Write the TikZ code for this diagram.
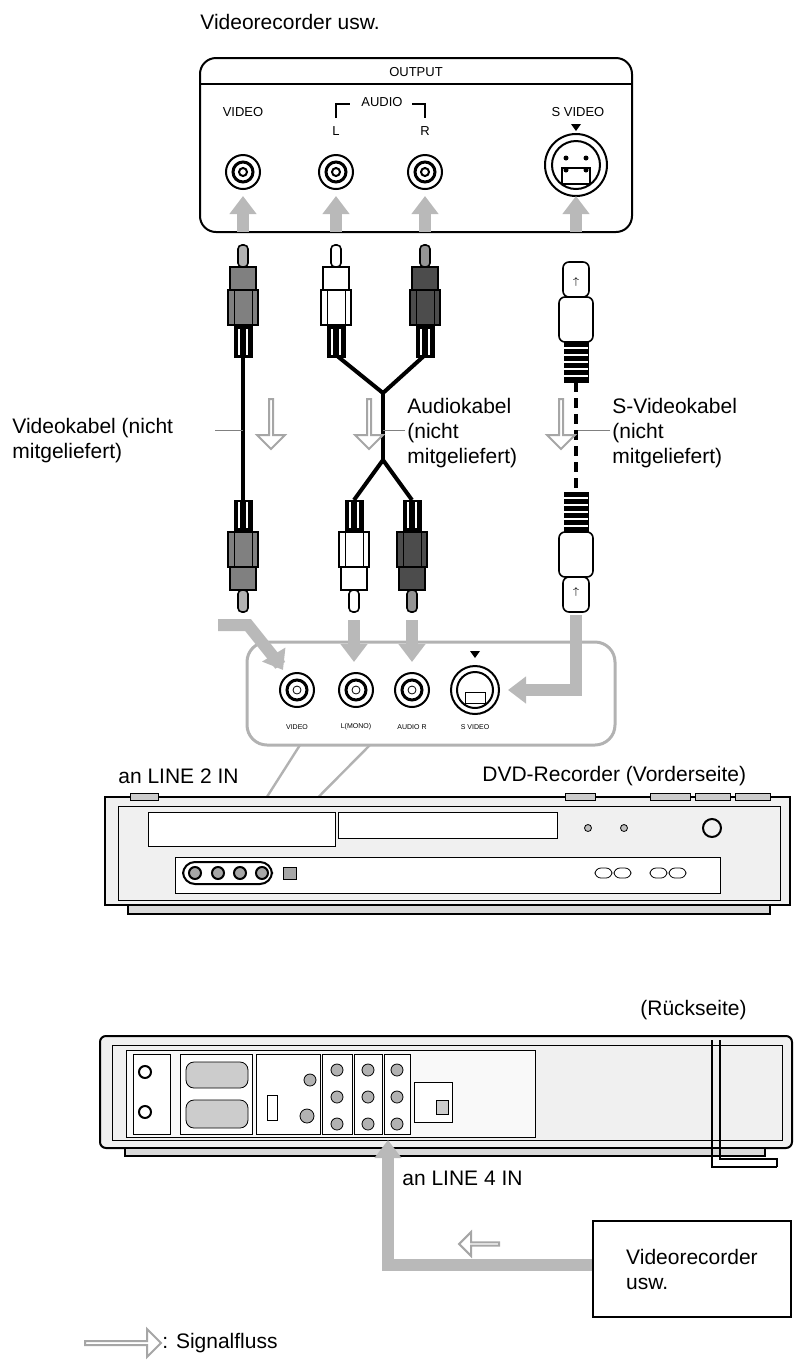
\documentclass[tikz,border=0pt]{standalone}
\usepackage{fontspec}
\setmainfont{Liberation Sans}
\usetikzlibrary{arrows.meta,shapes.arrows}
\begin{document}
\begin{tikzpicture}[x=0.5pt,y=-0.5pt,
 lbl/.style={font=\fontsize{10.5}{12.5}\selectfont,inner sep=0,align=left},
 sm/.style={font=\fontsize{6.5}{7}\selectfont,inner sep=0},
 tiny/.style={font=\fontsize{3.5}{4}\selectfont,inner sep=0},
 garrow/.style={draw=gray!55,line width=6pt,-{Triangle[length=9pt,width=13pt]}},
 hollow/.style={single arrow,draw=gray!70,fill=white,line width=1pt,minimum width=14pt,single arrow head extend=3pt,minimum height=25pt,inner sep=0},
 cab/.style={line width=2pt,black},
 jack/.pic={\draw[line width=1pt,fill=white] (0,0) circle (17); \draw[line width=1.5pt] (0,0) circle (10); \draw[line width=1pt] (0,0) circle (4);},
 rca/.pic={\draw[fill=#1!60!white,line width=0.8pt,rounded corners=2] (-5,0) rectangle (5,22);
   \draw[fill=#1,line width=0.8pt] (-13,22) rectangle (13,45);
   \draw[fill=#1,line width=0.8pt] (-15,45) rectangle (15,80);
   \draw (-9,45)--(-9,80) (9,45)--(9,80);
   \draw[fill=black] (-9,80) rectangle (9,112);
   \draw[white,line width=0.6pt] (-4,84)--(-4,110) (4,84)--(4,110);},
 svp/.pic={\draw[fill=white,line width=0.8pt,rounded corners=3] (-13,0) rectangle (13,35);
   \draw[fill=white,line width=0.8pt,rounded corners=3] (-17,35) rectangle (17,80);
   \node[tiny] at (0,20) {$\uparrow$};
   \draw[fill=black] (-12,80) rectangle (12,120);
   \foreach \yy in {86,93,100,107,114} \draw[white,line width=1pt] (-12,\yy)--(12,\yy);}
]
\useasboundingbox (0,0) rectangle (810,1362);
% top device
\node[lbl,anchor=west] (t1) at (200,22) {Videorecorder usw.};
\draw[line width=1pt,rounded corners=8] (200,58) rectangle (632,232);
\draw[line width=1pt] (200,84) -- (632,84);
\node[sm] (out) at (416,72) {OUTPUT};
\node[sm] (vlab) at (243,112) {VIDEO};
\node[sm] (alab) at (382,102) {AUDIO};
\draw[line width=0.8pt] (336,118)--(336,104)--(350,104) (412,104)--(425,104)--(425,118);
\node[sm] (llab) at (336,131) {L};
\node[sm] (rlab) at (425,131) {R};
\node[sm] (svlab) at (578,112) {S VIDEO};
\fill (571,124)--(581,124)--(576,131)--cycle;
\pic at (243,172) {jack};
\pic at (336,172) {jack};
\pic at (425,172) {jack};
\draw[line width=1pt,fill=white] (576,165) circle (31);
\draw[line width=1pt,fill=white] (576,165) circle (24);
\draw[line width=1pt] (562,168) rectangle (590,184);
\foreach \px/\py in {566/158,586/158,566/170,586/170} \fill (\px,\py) circle (2.5);
% up arrows
\foreach \xx in {243,336,425,576} \draw[garrow] (\xx,232) -- (\xx,196);
% plugs top
\pic at (243,245) {rca=gray};
\pic at (336,245) {rca=white};
\pic at (425,245) {rca=gray!60!black};
\pic at (576,262) {svp};
% cables
\draw[cab] (243,355) -- (243,500);
\draw[cab] (336,355) -- (383,393) -- (425,355);
\draw[cab] (383,393) -- (383,460);
\draw[cab] (354,500) -- (383,460) -- (412,500);
\draw[line width=2pt,dash pattern=on 5pt off 3pt] (576,382) -- (576,495);
% bottom plugs
\pic[yscale=-1] at (243,612) {rca=gray};
\pic[yscale=-1] at (354,612) {rca=white};
\pic[yscale=-1] at (412,612) {rca=gray!60!black};
\pic[yscale=-1] at (576,612) {svp};
% hollow arrows
\node[hollow,rotate=-90] (h1) at (271,423) {};
\node[hollow,rotate=-90] (h2) at (369,423) {};
\node[hollow,rotate=-90] (h3) at (561,423) {};
% labels
\node[lbl,anchor=north west] (vk) at (12,418) {Videokabel (nicht\\mitgeliefert)};
\draw[gray] (215,430) -- (243,430);
\node[lbl,anchor=north west] (ak) at (407,398) {Audiokabel\\(nicht\\mitgeliefert)};
\draw[gray] (383,430) -- (405,430);
\node[lbl,anchor=north west] (sk) at (612,398) {S-Videokabel\\(nicht\\mitgeliefert)};
\draw[gray] (578,430) -- (610,430);
% front jack panel
\draw[gray!60,line width=1.5pt,rounded corners=10] (247,642) rectangle (615,745);
\draw[garrow] (218,625) -- (248,625) -- (280,665) -- (283,670);
\draw[garrow] (354,620) -- (354,662);
\draw[garrow] (412,620) -- (412,662);
\draw[garrow] (576,615) -- (576,690) -- (508,690);
\foreach \xx in {297,356,412} {\draw[line width=1pt,fill=white] (\xx,690) circle (17); \draw[line width=1.5pt] (\xx,690) circle (10);\draw (\xx,690) circle (4);}
\draw[line width=1pt,fill=white] (475,690) circle (24);
\draw[line width=1pt] (475,690) circle (18);
\draw (465,692) rectangle (485,703);
\fill (470,651)--(480,651)--(475,658)--cycle;
\node[tiny] at (297,727) {VIDEO};
\node[tiny] at (356,727) {L(MONO)};
\node[tiny] at (412,727) {AUDIO R};
\node[tiny] at (475,727) {S VIDEO};
\draw[gray!60,line width=1.2pt] (300,745) -- (228,858) (370,745) -- (258,858);
\node[lbl,anchor=west] (l2) at (118,776) {an LINE 2 IN};
\node[lbl,anchor=west] (fr) at (482,776) {DVD-Recorder (Vorderseite)};
% DVD front
\draw[line width=1pt,fill=gray!12] (105,797) rectangle (790,905);
\draw[line width=1pt,fill=gray!30] (128,905) rectangle (770,914);
\foreach \a/\b in {130/158,565/595,650/690,695/730,735/770} \draw[fill=gray!40] (\a,793) rectangle (\b,800);
\draw (118,806) rectangle (780,900);
\draw[fill=white] (148,812) rectangle (335,846);
\draw[fill=white] (338,812) rectangle (557,838);
\draw[fill=gray!50] (588,828) circle (3.5) (624,828) circle (3.5);
\draw[line width=1pt] (712,828) circle (9);
\draw[fill=white] (175,857) rectangle (720,893);
\draw[line width=1pt,rounded corners=6,fill=white] (183,862) rectangle (272,884);
\foreach \xx in {195,218,240,262} \draw[fill=gray!70,line width=1pt] (\xx,873) circle (6);
\draw[fill=gray!70] (283,867) rectangle (296,879);
\draw[rounded corners=3] (595,868) rectangle (612,878) (614,868) rectangle (631,878);
\draw[rounded corners=3] (650,868) rectangle (667,878) (669,868) rectangle (686,878);
% DVD back
\node[lbl,anchor=west] (rs) at (640,1010) {(Rückseite)};
\draw[line width=1pt,fill=gray!12,rounded corners=3] (100,1036) rectangle (792,1148);
\draw[line width=1pt,fill=gray!30] (125,1148) rectangle (765,1156);
\draw (112,1045) rectangle (782,1140);
\draw[fill=gray!5] (126,1050) rectangle (535,1137);
\draw[fill=white] (133,1054) rectangle (170,1134);
\draw[line width=1pt] (145,1072) circle (6) (145,1112) circle (6);
\draw[fill=white] (180,1054) rectangle (252,1134);
\draw[fill=gray!40,rounded corners=4] (186,1062) rectangle (248,1088) (186,1100) rectangle (248,1128);
\draw[fill=white] (256,1054) rectangle (320,1134) (322,1054) rectangle (352,1134) (354,1054) rectangle (382,1134) (384,1054) rectangle (410,1134) (414,1082) rectangle (452,1122);
\foreach \xx in {337,368,397} \foreach \yy in {1070,1097,1124} \draw[fill=gray!60] (\xx,\yy) circle (6);
\draw[fill=gray!60] (310,1080) circle (6) (307,1116) circle (7);
\draw (267,1095) rectangle (277,1120);
\draw[fill=gray!40] (436,1100) rectangle (448,1114);
\draw[line width=1pt] (712,1040)--(712,1167)--(777,1167) (720,1040)--(720,1159)--(777,1159)--(777,1167);
% back connection
\node[lbl,anchor=west] (l4) at (402,1178) {an LINE 4 IN};
\node[lbl,draw,line width=1pt,anchor=north west,minimum width=99pt,minimum height=48pt,inner sep=6pt] (vr) at (592,1220) {Videorecorder\\usw.};
\draw[garrow] (592,1265) -- (388,1265) -- (388,1140);
\node[hollow,rotate=180,minimum width=12pt,minimum height=20pt] (h4) at (480,1244) {};
% legend
\node[hollow,minimum height=38pt,minimum width=14pt] (lg) at (122,1343) {};
\node[lbl,anchor=west] (sf) at (162,1343) {: Signalfluss};
\end{tikzpicture}
\end{document}
